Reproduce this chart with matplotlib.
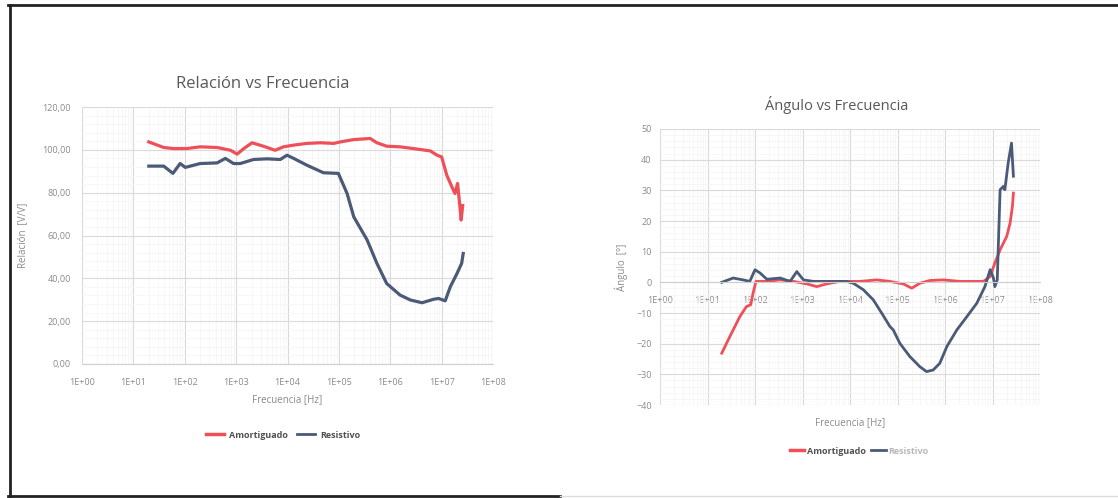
#Relacion y Angulo vs Frecuencia - two Excel-style log charts side by side
import numpy as np
import matplotlib.pyplot as plt
from matplotlib.lines import Line2D
from matplotlib.ticker import FixedLocator, NullFormatter

plt.rcParams['font.family'] = ['Open Sans', 'DejaVu Sans']

#Relacion [V/V] data, frequency given as log10(Hz)
rel_amort_logf = [1.30, 1.59, 1.78, 2.04, 2.30, 2.63, 2.89, 3.02, 3.15, 3.31, 3.53, 3.76, 3.92,
                  4.12, 4.38, 4.64, 4.90, 5.03, 5.29, 5.61, 5.74, 5.93, 6.19, 6.45, 6.78, 6.91,
                  7.00, 7.10, 7.20, 7.26, 7.31, 7.35, 7.38, 7.41]
rel_amort = [103.7, 101.1, 100.6, 100.6, 101.4, 101.1, 99.8, 98.0, 100.6, 103.3, 101.7, 99.8, 101.4,
             102.2, 103.0, 103.3, 103.0, 103.7, 104.8, 105.3, 103.3, 101.7, 101.4, 100.6, 99.5, 97.5,
             96.7, 88.2, 82.7, 79.6, 84.3, 75.0, 67.2, 74.0]
rel_resis_logf = [1.30, 1.59, 1.77, 1.91, 2.01, 2.30, 2.63, 2.79, 2.95, 3.08, 3.34, 3.60, 3.86,
                  3.99, 4.12, 4.38, 4.70, 4.99, 5.16, 5.29, 5.55, 5.74, 5.93, 6.19, 6.39, 6.62,
                  6.84, 6.94, 7.07, 7.17, 7.30, 7.39, 7.42]
rel_resis = [92.4, 92.4, 89.0, 93.6, 91.8, 93.6, 93.9, 96.0, 93.6, 93.6, 95.5, 95.8, 95.5,
             97.5, 96.0, 92.8, 89.3, 89.0, 79.6, 68.7, 57.9, 47.0, 37.6, 32.2, 29.9, 28.6,
             30.2, 30.6, 29.5, 36.1, 42.3, 47.0, 51.6]

#Angulo [deg] data
ang_amort_logf = [1.30, 1.47, 1.68, 1.82, 1.91, 1.96, 2.02, 2.25, 2.53, 2.81, 3.09, 3.30, 3.51,
                  3.79, 4.21, 4.56, 4.84, 5.12, 5.30, 5.47, 5.68, 5.96, 6.32, 6.81, 6.95, 7.05,
                  7.16, 7.30, 7.37, 7.42, 7.44]
ang_amort = [-23.1, -17.7, -11.2, -7.9, -7.3, -3.5, 0.3, 0.3, 0.8, 0.3, -0.5, -1.4, -0.5,
             0.3, 0.3, 0.8, 0.3, -0.5, -1.9, -0.3, 0.6, 0.8, 0.3, 0.3, 1.9, 6.3,
             10.6, 15.0, 19.3, 24.8, 29.1]
ang_resis_logf = [1.30, 1.54, 1.75, 1.89, 2.00, 2.11, 2.25, 2.53, 2.74, 2.88, 3.02, 3.23, 3.51,
                  3.93, 4.07, 4.28, 4.49, 4.67, 4.84, 4.91, 5.05, 5.26, 5.47, 5.61, 5.75, 5.89,
                  6.04, 6.25, 6.46, 6.67, 6.84, 6.95, 7.02, 7.05, 7.10, 7.16, 7.23, 7.26, 7.33,
                  7.40, 7.44]
ang_resis = [0.0, 1.4, 0.8, 0.3, 4.1, 3.0, 1.0, 1.4, 0.3, 3.5, 0.8, 0.3, 0.3,
             0.3, -0.3, -2.4, -5.7, -10.1, -14.4, -15.5, -19.9, -24.2, -27.5, -29.1, -28.6, -26.4,
             -20.9, -15.5, -11.2, -6.8, -1.4, 4.1, 1.4, -1.4, 0.8, 30.2, 31.3, 30.2, 38.9,
             45.4, 34.6]

decades = list(range(0, 9))
xtick_labels = ['1E+%02d' % d for d in decades]
rel_yticks = [0, 20, 40, 60, 80, 100, 120]
ang_yticks = [-40, -30, -20, -10, 0, 10, 20, 30, 40, 50]

red = '#ee4f58'
blue = '#4b5a76'
txt = '#8a8a8a'

fig = plt.figure(figsize=(11.18, 4.98), dpi=100)
W, H = 1118, 498

def px_axes(l, t, r, b):
    return fig.add_axes([l / W, 1 - b / H, (r - l) / W, (b - t) / H])

minor_x = [m * 10.0 ** d for d in range(0, 8) for m in range(2, 10)]

def style(ax, ymin, ymax, yticks, yminor):
    ax.set_xscale('log')
    ax.set_xlim(1, 1e8)
    ax.set_ylim(ymin, ymax)
    ax.set_xticks([10.0 ** d for d in decades])
    ax.set_xticklabels(xtick_labels)
    ax.xaxis.set_minor_locator(FixedLocator(minor_x))
    ax.xaxis.set_minor_formatter(NullFormatter())
    ax.set_yticks(yticks)
    ax.yaxis.set_minor_locator(FixedLocator(yminor))
    ax.grid(True, which='major', color='#dadada', lw=0.8)
    ax.grid(True, which='minor', color='#f4f4f4', lw=0.5)
    ax.set_axisbelow(True)
    for s in ['top', 'right', 'left']:
        ax.spines[s].set_visible(False)
    ax.spines['bottom'].set_color('#cfcfcf')
    ax.tick_params(which='both', length=0, colors=txt, labelsize=6.5)

#Left chart
ax1 = px_axes(82, 107, 493, 364)
style(ax1, 0, 120, rel_yticks, list(np.arange(0, 121, 4)))
ax1.yaxis.set_major_formatter(plt.FuncFormatter(lambda v, p: ('%.2f' % v).replace('.', ',')))
ax1.plot(10 ** np.array(rel_amort_logf), rel_amort, color=red, lw=2.3)
ax1.plot(10 ** np.array(rel_resis_logf), rel_resis, color=blue, lw=2.3)
ax1.tick_params(axis='x', pad=10)
ax1.tick_params(axis='y', pad=8)
ax1.set_title('Relación vs Frecuencia', fontsize=12, color='#595959', pad=14, x=0.44)
ax1.set_xlabel('Frecuencia [Hz]', fontsize=7, color=txt, labelpad=5)
ax1.set_ylabel('Relación  [V/V]', fontsize=7, color=txt, labelpad=10)

#Right chart
ax2 = px_axes(660, 129, 1040, 405)
style(ax2, -40, 50, ang_yticks, list(np.arange(-40, 51, 2)))
ax2.spines['bottom'].set_position(('data', 0))
ax2.plot(10 ** np.array(ang_amort_logf), ang_amort, color=red, lw=2.0)
ax2.plot(10 ** np.array(ang_resis_logf), ang_resis, color=blue, lw=2.0)
ax2.tick_params(axis='x', pad=10)
ax2.tick_params(axis='y', pad=6)
ax2.set_title('Ángulo vs Frecuencia', fontsize=10.5, color='#595959', pad=14, x=0.466)
ax2.text(0.5, -0.045, 'Frecuencia [Hz]', transform=ax2.transAxes, ha='center', va='top',
         fontsize=7, color=txt)
ax2.set_ylabel('Ángulo  [°]', fontsize=7, color=txt, labelpad=6)

#Legends below each chart
h_a = Line2D([], [], color=red, lw=2.5)
h_r = Line2D([], [], color=blue, lw=2.0)
fig.legend([h_a, h_r], ['Amortiguado', 'Resistivo'], loc='center',
           bbox_to_anchor=(283 / W, 1 - 435 / H), ncol=2, frameon=False,
           prop={'size': 6.5, 'weight': 'bold'}, labelcolor='#505050',
           handlelength=2.0, columnspacing=1.0, handletextpad=0.6)
fig.legend([h_a, h_r], ['Amortiguado', 'Resistivo'], loc='center',
           bbox_to_anchor=(859 / W, 1 - 451 / H), ncol=2, frameon=False,
           prop={'size': 6.5, 'weight': 'bold'}, labelcolor=['#505050', '#b8b8b8'],
           handlelength=1.6, columnspacing=0.6, handletextpad=0.3)

#Screenshot frame
def px_line(x, y, color, lw):
    fig.add_artist(Line2D([v / W for v in x], [1 - v / H for v in y], color=color, lw=lw))

px_line([8, 1118], [5, 5], '#222222', 2.0)
px_line([10, 10], [5, 496], '#222222', 2.0)
px_line([8, 560], [496, 496], '#222222', 2.0)
px_line([560, 1118], [496, 496], '#dddddd', 1.0)

fig.savefig('out.png', dpi=100)
